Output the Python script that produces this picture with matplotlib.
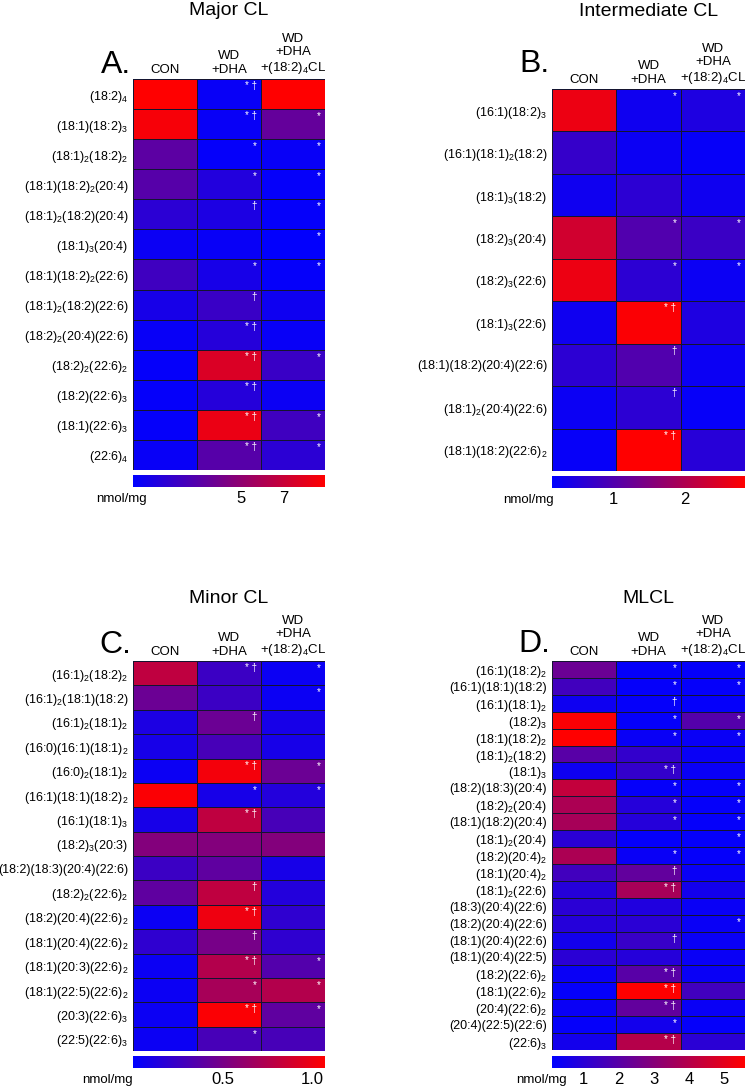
import numpy as np
import matplotlib
matplotlib.use('Agg')
from matplotlib import pyplot as plt
from matplotlib.colors import LinearSegmentedColormap

plt.rcParams['font.family'] = ['Liberation Sans', 'DejaVu Sans']
plt.rcParams['mathtext.fontset'] = 'custom'
plt.rcParams['mathtext.rm'] = 'Liberation Sans'
plt.rcParams['mathtext.it'] = 'Liberation Sans'
plt.rcParams['mathtext.default'] = 'regular'

groups = ['CON', 'WD\n+DHA', 'WD\n+DHA\n+(18:2)$_4$CL']

# A. Major CL
major_rows = ['(18:2)$_4$', '(18:1)(18:2)$_3$', '(18:1)$_2$(18:2)$_2$', '(18:1)(18:2)$_2$(20:4)',
              '(18:1)$_2$(18:2)(20:4)', '(18:1)$_3$(20:4)', '(18:1)(18:2)$_2$(22:6)',
              '(18:1)$_2$(18:2)(22:6)', '(18:2)$_2$(20:4)(22:6)', '(18:2)$_2$(22:6)$_2$',
              '(18:2)(22:6)$_3$', '(18:1)(22:6)$_3$', '(22:6)$_4$']
major_con = [8.9, 8.6, 3.2, 3.0, 1.5, 0.4, 2.2, 0.8, 0.3, 0.2, 0.2, 0.2, 0.3]
major_dha = [0.3, 0.3, 0.2, 1.2, 1.0, 0.3, 0.8, 2.0, 1.3, 7.6, 1.3, 8.2, 3.0]
major_cl = [8.9, 3.5, 0.3, 0.2, 0.2, 0.1, 0.2, 0.5, 0.3, 2.0, 0.4, 2.2, 1.5]
major_dha_sig = ['* †', '* †', '*', '*', '†', '', '*', '†', '* †', '* †', '* †', '* †', '* †']
major_cl_sig = ['', '*', '*', '*', '*', '*', '*', '', '', '*', '', '*', '*']

# B. Intermediate CL
inter_rows = ['(16:1)(18:2)$_3$', '(16:1)(18:1)$_2$(18:2)', '(18:1)$_3$(18:2)', '(18:2)$_3$(20:4)',
              '(18:2)$_3$(22:6)', '(18:1)$_3$(22:6)', '(18:1)(18:2)(20:4)(22:6)',
              '(18:1)$_2$(20:4)(22:6)', '(18:1)(18:2)(22:6)$_2$']
inter_con = [2.65, 0.7, 0.3, 2.35, 2.65, 0.3, 0.6, 0.25, 0.2]
inter_dha = [0.3, 0.25, 0.6, 1.0, 0.6, 2.8, 1.0, 0.6, 2.85]
inter_cl = [0.45, 0.2, 0.3, 0.75, 0.25, 0.45, 0.25, 0.2, 0.55]
inter_dha_sig = ['*', '', '', '*', '*', '* †', '†', '†', '* †']
inter_cl_sig = ['*', '', '', '*', '*', '', '', '', '']

# C. Minor CL
minor_rows = ['(16:1)$_2$(18:2)$_2$', '(16:1)$_2$(18:1)(18:2)', '(16:1)$_2$(18:1)$_2$',
              '(16:0)(16:1)(18:1)$_2$', '(16:0)$_2$(18:1)$_2$', '(16:1)(18:1)(18:2)$_2$',
              '(16:1)(18:1)$_3$', '(18:2)$_3$(20:3)', '(18:2)(18:3)(20:4)(22:6)',
              '(18:2)$_2$(22:6)$_2$', '(18:2)(20:4)(22:6)$_2$', '(18:1)(20:4)(22:6)$_2$',
              '(18:1)(20:3)(22:6)$_2$', '(18:1)(22:5)(22:6)$_2$', '(20:3)(22:6)$_3$',
              '(22:5)(22:6)$_3$']
minor_con = [0.8, 0.45, 0.12, 0.1, 0.05, 1.05, 0.1, 0.55, 0.25, 0.4, 0.05, 0.2, 0.05, 0.05, 0.05, 0.05]
minor_dha = [0.25, 0.25, 0.45, 0.3, 1.02, 0.1, 0.8, 0.55, 0.4, 0.8, 1.0, 0.5, 0.75, 0.7, 1.05, 0.3]
minor_cl = [0.05, 0.05, 0.1, 0.1, 0.45, 0.15, 0.3, 0.55, 0.1, 0.15, 0.2, 0.2, 0.35, 0.75, 0.4, 0.3]
minor_dha_sig = ['* †', '', '†', '', '* †', '*', '* †', '', '', '†', '* †', '†', '* †', '*', '* †', '*']
minor_cl_sig = ['*', '*', '', '', '*', '*', '', '', '', '', '', '', '*', '*', '*', '']

# D. MLCL
mlcl_rows = ['(16:1)(18:2)$_2$', '(16:1)(18:1)(18:2)', '(16:1)(18:1)$_2$', '(18:2)$_3$',
             '(18:1)(18:2)$_2$', '(18:1)$_2$(18:2)', '(18:1)$_3$', '(18:2)(18:3)(20:4)',
             '(18:2)$_2$(20:4)', '(18:1)(18:2)(20:4)', '(18:1)$_2$(20:4)', '(18:2)(20:4)$_2$',
             '(18:1)(20:4)$_2$', '(18:1)$_2$(22:6)', '(18:3)(20:4)(22:6)', '(18:2)(20:4)(22:6)',
             '(18:1)(20:4)(22:6)', '(18:1)(20:4)(22:5)', '(18:2)(22:6)$_2$', '(18:1)(22:6)$_2$',
             '(20:4)(22:6)$_2$', '(20:4)(22:5)(22:6)', '(22:6)$_3$']
mlcl_con = [2.4, 1.5, 0.4, 5.5, 5.6, 2.0, 0.4, 4.3, 3.8, 3.7, 1.0, 3.8, 1.5, 0.9, 1.0, 0.9,
            0.5, 1.0, 0.3, 0.2, 0.3, 0.2, 0.5]
mlcl_dha = [0.2, 0.2, 0.2, 0.2, 0.3, 1.2, 1.2, 0.2, 0.9, 0.9, 0.2, 0.3, 2.2, 3.7, 0.8, 1.0,
            1.3, 0.9, 2.0, 5.6, 2.2, 0.5, 4.0]
mlcl_cl = [0.2, 0.2, 0.2, 1.9, 0.3, 0.3, 0.3, 0.2, 0.2, 0.2, 0.2, 0.2, 0.3, 0.5, 0.3, 0.3,
           0.3, 0.3, 0.3, 1.5, 0.3, 0.2, 1.0]
mlcl_dha_sig = ['*', '*', '†', '*', '*', '', '* †', '*', '*', '*', '', '*', '†', '* †', '', '',
                '†', '', '* †', '* †', '* †', '*', '* †']
mlcl_cl_sig = ['*', '*', '', '*', '*', '', '', '*', '*', '*', '*', '*', '', '', '', '*',
               '', '', '', '', '', '', '']

W, H = 745, 1090
fig = plt.figure(figsize=(W / 100, H / 100), dpi=100)
cmap = LinearSegmentedColormap.from_list('bluered', ['#0000ff', '#ff0000'])


def px_axes(x0, y0, x1, y1):
    return fig.add_axes([x0 / W, 1 - y1 / H, (x1 - x0) / W, (y1 - y0) / H])


def panel(box, cbar_y, rows, cols, sigs, vmin, vmax, ticks, ticklabels,
          title, title_y, letter, letter_y, unit_x):
    x0, y0, x1, y1 = box
    ax = px_axes(x0, y0, x1, y1)
    data = np.array(cols).T
    ax.pcolormesh(data, cmap=cmap, vmin=vmin, vmax=vmax,
                  edgecolors='#141430', linewidth=0.7)
    ax.set_xlim(0, 3)
    ax.set_ylim(len(rows), 0)
    ax.set_yticks(np.arange(len(rows)) + 0.5)
    ax.set_yticklabels(rows, fontsize=9)
    ax.tick_params(length=0, pad=3.5)
    ax.set_xticks([])
    for s in ax.spines.values():
        s.set_visible(False)
    for j, g in enumerate(groups):
        ax.annotate(g, (j + 0.5, 0), xytext=(0, 2.5), textcoords='offset points',
                    ha='center', va='bottom', fontsize=9.5, linespacing=1.15)
    for j, col in enumerate(sigs):
        for i, m in enumerate(col):
            if m:
                ax.annotate(m, (j + 2, i), xytext=(-3, -1.5), textcoords='offset points',
                            ha='right', va='top', color='white', fontsize=7)

    cax = px_axes(x0, cbar_y, x1, cbar_y + 12)
    sm = plt.cm.ScalarMappable(cmap=cmap, norm=plt.Normalize(vmin, vmax))
    cb = fig.colorbar(sm, cax=cax, orientation='horizontal')
    cb.set_ticks(ticks, labels=ticklabels)
    cb.ax.tick_params(length=0, labelsize=12, pad=3)
    cb.outline.set_visible(False)
    fig.text(unit_x / W, 1 - (cbar_y + 24) / H, 'nmol/mg', ha='right', va='center', fontsize=9.5)

    fig.text((x0 + x1) / 2 / W, 1 - title_y / H, title, ha='center', va='baseline', fontsize=14)
    fig.text((x0 - 2) / W, 1 - letter_y / H, letter, ha='right', va='baseline', fontsize=23)


panel((133, 79, 325, 470), 475, major_rows, [major_con, major_dha, major_cl],
      [major_dha_sig, major_cl_sig], 0, 8.9, [5, 7], ['5', '7'],
      'Major CL', 15, 'A.', 73, 147)
panel((552, 89, 745, 471), 476, inter_rows, [inter_con, inter_dha, inter_cl],
      [inter_dha_sig, inter_cl_sig], 0.13, 2.85, [1, 2], ['1', '2'],
      'Intermediate CL', 16, 'B.', 72, 554)
panel((133, 661, 325, 1051), 1056, minor_rows, [minor_con, minor_dha, minor_cl],
      [minor_dha_sig, minor_cl_sig], 0, 1.07, [0.5, 1.0], ['0.5', '1.0'],
      'Minor CL', 603, 'C.', 653, 133)
panel((552, 661, 745, 1050), 1056, mlcl_rows, [mlcl_con, mlcl_dha, mlcl_cl],
      [mlcl_dha_sig, mlcl_cl_sig], 0.09, 5.6, [1, 2, 3, 4, 5], ['1', '2', '3', '4', '5'],
      'MLCL', 603, 'D.', 652, 567)

fig.savefig('out.png', dpi=100)
